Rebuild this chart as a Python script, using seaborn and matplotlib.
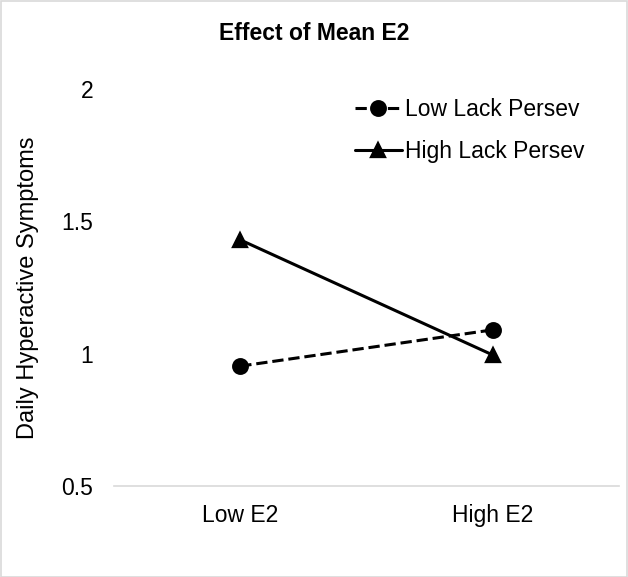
import matplotlib
matplotlib.use("Agg")
import matplotlib.pyplot as plt
import seaborn as sns
import pandas as pd
from matplotlib.patches import Rectangle

categories = ["Low E2", "High E2"]
series_names = ["Low Lack Persev", "High Lack Persev"]
low_lack = [0.953, 1.09]
high_lack = [1.43, 0.995]
y_ticks = [0.5, 1, 1.5, 2]
y_tick_labels = ["0.5", "1", "1.5", "2"]

df = pd.DataFrame({
    "cond": categories * 2,
    "value": low_lack + high_lack,
    "group": [series_names[0]] * 2 + [series_names[1]] * 2,
})

sns.set_theme(style="white")
plt.rcParams["font.family"] = ["Liberation Sans", "DejaVu Sans"]
plt.rcParams["text.color"] = "black"
plt.rcParams["xtick.color"] = "black"
plt.rcParams["ytick.color"] = "black"
plt.rcParams["axes.labelcolor"] = "black"

W, H = 628, 577
fig = plt.figure(figsize=(W / 100, H / 100), dpi=100)
ax = fig.add_axes([114 / W, 1 - 486 / H, 505 / W, (486 - 89) / H])

sns.pointplot(data=df, x="cond", y="value", hue="group", order=categories,
              hue_order=series_names, palette=["black", "black"],
              markers=["o", "^"], linestyles=["--", "-"], ax=ax,
              markersize=10.5, linewidth=2.2, errorbar=None)

ax.set_xlim(-0.5, 1.5)
ax.set_ylim(0.5, 2)
ax.set_yticks(y_ticks)
ax.set_yticklabels(y_tick_labels)
ax.tick_params(axis="both", labelsize=16.5, length=0)
ax.tick_params(axis="x", pad=13)
ax.tick_params(axis="y", pad=15)
ax.set_xlabel("")
ax.set_ylabel("Daily Hyperactive Symptoms", fontsize=17, labelpad=16)
for s in ["top", "right", "left"]:
    ax.spines[s].set_visible(False)
ax.spines["bottom"].set_color("#d9d9d9")
ax.spines["bottom"].set_linewidth(1.2)

fig.text(0.5, 1 - 33 / H, "Effect of Mean E2", ha="center", va="center",
         fontsize=16.5, fontweight="bold")

leg = ax.legend(loc="upper left", bbox_to_anchor=(355 / W, 1 - 98 / H),
                bbox_transform=fig.transFigure, frameon=False,
                fontsize=16.5, handlelength=2.05, handletextpad=0.15,
                labelspacing=0.84, borderpad=0, borderaxespad=0, title=None)

fig.patches.append(Rectangle((0.5 / W, 0.5 / H), 1 - 1.5 / W, 1 - 1.5 / H,
                             transform=fig.transFigure, fill=False,
                             edgecolor="#d9d9d9", linewidth=1.2))

fig.savefig("out.png", dpi=100)
